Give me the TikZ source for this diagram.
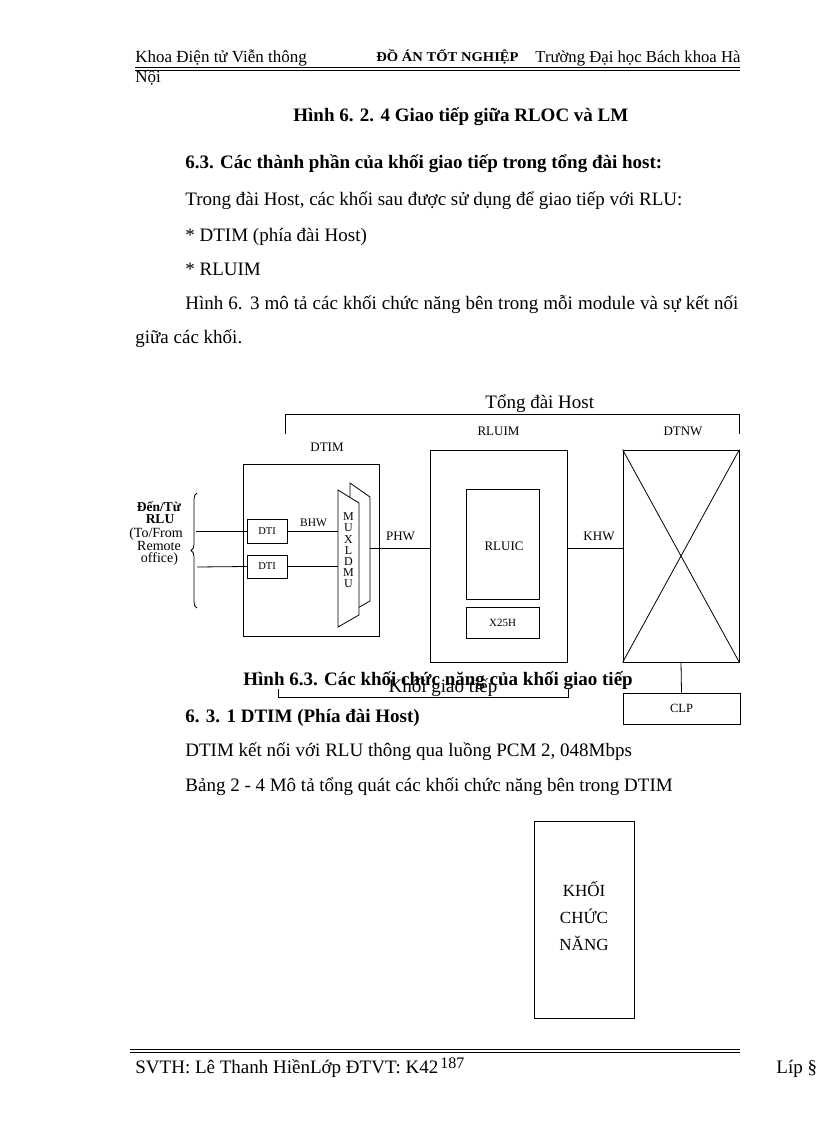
\documentclass[tikz,border=0pt]{standalone}
\usepackage{fontspec}
\setmainfont{Liberation Serif}
\usetikzlibrary{decorations.pathreplacing}
\begin{document}
\begin{tikzpicture}[x=1pt,y=-1pt,line width=0.8pt,
  fs/.style={font=\fontsize{#1}{#1}\selectfont},
  txt/.style={anchor=base west,inner sep=0pt,font=\fontsize{19}{22}\selectfont},
  txtb/.style={txt,font=\fontsize{19}{22}\selectfont\bfseries},
  hdr/.style={anchor=base west,inner sep=0pt,font=\fontsize{17}{20}\selectfont},
  box/.style={draw,rectangle,inner sep=0pt},
  lab/.style={inner sep=0pt,font=\fontsize{13}{13}\selectfont},
  lft/.style={anchor=base,inner sep=0pt,font=\fontsize{14}{14}\selectfont},
  lftb/.style={anchor=base,inner sep=0pt,font=\fontsize{13.5}{13.5}\selectfont\bfseries},
]
\useasboundingbox (0,0) rectangle (816,1123);
\fill[white] (0,0) rectangle (816,1123);

% ---------- header ----------
\node[hdr] (h1) at (135,63) {Khoa Điện tử Viễn thông};
\node[anchor=base west,inner sep=0pt,font=\fontsize{13.5}{13.5}\selectfont\bfseries] (h2) at (376,62) {\scalebox{1.08}[1]{ĐỒ ÁN TỐT NGHIỆP}};
\node[hdr,font=\fontsize{16.7}{20}\selectfont] (h3) at (535,63) {Trường Đại học Bách khoa Hà};
\node[hdr] (h4) at (135,83) {Nội};
\coordinate (hl1) at (135,67.5); \coordinate (hr1) at (740,67.5);
\coordinate (hl2) at (135,70.5); \coordinate (hr2) at (740,70.5);
\draw[line width=1.8pt] (hl1) -- (hr1);
\draw[line width=0.7pt] (hl2) -- (hr2);

% ---------- body text ----------
\node[txtb] (t1) at (293,122) {Hình 6. 2. 4 Giao tiếp giữa RLOC và LM};
\node[txtb] (t2) at (185,169) {6.3. Các thành phần của khối giao tiếp trong tổng đài host:};
\node[txt] (t3) at (185,206) {Trong đài Host, các khối sau được sử dụng để giao tiếp với RLU:};
\node[txt] (t4) at (185,241) {* DTIM (phía đài Host)};
\node[txt] (t5) at (185,275) {* RLUIM};
\node[txt] (t6) at (185,309) {\makebox[553pt][s]{Hình 6. 3 mô tả các khối chức năng bên trong mỗi module và sự kết nối}};
\node[txt] (t7) at (135,343) {giữa các khối.};

% ---------- diagram ----------
\node[txt] (host) at (485,408) {Tổng đài Host};
\coordinate (tb1) at (285,434); \coordinate (tb2) at (285,414);
\coordinate (tb3) at (739,414); \coordinate (tb4) at (739,434);
\draw (tb1) -- (tb2) -- (tb3) -- (tb4);

\node[lab] (ldtim) at (327,447) {DTIM};
\node[lab] (lrluim) at (498.5,431.5) {RLUIM};
\node[lab] (ldtnw) at (683,431.5) {DTNW};

\node[box,minimum width=136pt,minimum height=172pt] (dtim) at (311,550) {};
\node[box,minimum width=40pt,minimum height=24pt,fs=10.5] (dti1) at (267,531) {DTI};
\node[box,minimum width=40pt,minimum height=23pt,fs=10.5] (dti2) at (267,566.5) {DTI};

% MUX/DMU shape
\coordinate (m1) at (338,490); \coordinate (m2) at (359,503);
\coordinate (m3) at (359,615); \coordinate (m4) at (338,627);
\coordinate (b0) at (350,497.4); \coordinate (b1) at (350,483);
\coordinate (b2) at (370,497); \coordinate (b3) at (370,601);
\coordinate (b4) at (359,607.3);
\draw (b0) -- (b1) -- (b2) -- (b3) -- (b4);
\draw (m1) -- (m2) -- (m3) -- (m4) -- cycle;
\node[inner sep=0pt,align=center,font=\fontsize{12}{11.2}\selectfont] (muxt) at (348.5,550.5) {M\\U\\X\\L\\D\\M\\U};
\coordinate (muxout) at (370,548);

\node[lab,fs=11.5] (lbhw) at (313.5,523) {BHW};
\draw (dti1.east) -- (dti1.east -| m1);
\draw (dti2.east) -- (dti2.east -| m1);

\coordinate (in1) at (196,531); \coordinate (in2) at (197,567);
\draw (in1) -- (dti1.west);
\draw (in2) -- (dti2.west);

\draw[decorate,decoration={brace,amplitude=6pt}] (197,608) -- (197,493);
\node[lftb] (l1) at (159,511) {Đến/Từ};
\node[lftb] (l2) at (160,523) {RLU};
\node[lft] (l3) at (156,537) {(To/From};
\node[lft] (l4) at (159,550) {Remote};
\node[lft] (l5) at (159.5,562.5) {office)};

\node[box,minimum width=137pt,minimum height=212pt] (rluim) at (498.5,556) {};
\node[box,minimum width=73pt,minimum height=110pt] (rluic) at (502.5,544) {};
\node[lab] (trluic) at (504,546) {RLUIC};
\node[box,minimum width=73pt,minimum height=31pt,fs=11] (x25h) at (502.5,622.5) {X25H};

\node[lab] (lphw) at (400.5,536) {PHW};
\draw (muxout) -- (muxout -| rluim.west);

\node[box,minimum width=116pt,minimum height=212pt] (dtnw) at (681,556) {};
\draw (dtnw.north west) -- (dtnw.south east);
\draw (dtnw.north east) -- (dtnw.south west);
\node[lab] (lkhw) at (599,536) {KHW};
\draw (muxout -| rluim.east) -- (muxout -| dtnw.west);

\node[box,minimum width=117pt,minimum height=31pt,fs=12.5] (clp) at (681.5,708.5) {CLP};
\draw (dtnw.south) -- (clp.north);

\node[anchor=base,inner sep=0pt,font=\fontsize{19}{19}\selectfont] (kgt) at (443,692) {Khối giao tiếp};
\coordinate (kb1) at (278,689); \coordinate (kb2) at (278,697);
\coordinate (kb3) at (568,697); \coordinate (kb4) at (568,689);
\draw (kb1) -- (kb2) -- (kb3) -- (kb4);

\node[txtb] (cap) at (243,685) {Hình 6.3. Các khối chức năng của khối giao tiếp};

% ---------- lower text ----------
\node[txtb] (t8) at (185,722) {6. 3. 1 DTIM (Phía đài Host)};
\node[txt] (t9) at (185,756) {DTIM kết nối với RLU thông qua luồng PCM 2, 048Mbps};
\node[txt] (t10) at (185,791) {Bảng 2 - 4 Mô tả tổng quát các khối chức năng bên trong DTIM};

\node[box,minimum width=100pt,minimum height=197pt] (kcn) at (584,919.5) {};
\node[inner sep=0pt,align=center,font=\fontsize{17}{27}\selectfont] (kcnt) at (584,916) {KHỐI\\CHỨC\\NĂNG};

% ---------- footer ----------
\coordinate (fl1) at (130,1049.5); \coordinate (fr1) at (740,1049.5);
\coordinate (fl2) at (130,1052.5); \coordinate (fr2) at (740,1052.5);
\draw[line width=1.6pt] (fl1) -- (fr1);
\draw[line width=0.8pt] (fl2) -- (fr2);
\node[txt] (f1) at (135,1073) {SVTH: Lê Thanh HiềnLớp ĐTVT: K42};
\node[anchor=base west,inner sep=0pt,font=\fontsize{16}{16}\selectfont] (f2) at (440,1068) {187};
\node[txt] (f3) at (776,1073) {Líp §};
\end{tikzpicture}
\end{document}
